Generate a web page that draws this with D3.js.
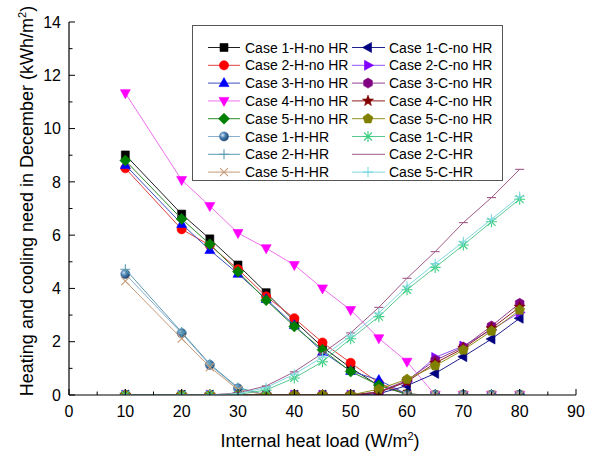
<!DOCTYPE html>
<html><head><meta charset="utf-8">
<script src="https://cdn.jsdelivr.net/npm/d3@7"></script>
<style>body{margin:0;background:#fff}svg{display:block}</style>
</head><body><svg id="c" width="593" height="454"></svg>
<script>
// ---- data ----
const xLoad = [10,20,25,30,35,40,45,50,55,60,65,70,75,80];
const seriesNames = ["Case 1-H-no HR","Case 2-H-no HR","Case 3-H-no HR","Case 4-H-no HR","Case 5-H-no HR",
  "Case 1-H-HR","Case 2-H-HR","Case 5-H-HR",
  "Case 1-C-no HR","Case 2-C-no HR","Case 3-C-no HR","Case 4-C-no HR","Case 5-C-no HR",
  "Case 1-C-HR","Case 2-C-HR","Case 5-C-HR"];
const case1HnoHR = [9.01,6.79,5.86,4.88,3.84,2.78,1.80,1.02,0.35,0.03,0,0,0,0];
const case2HnoHR = [8.51,6.22,5.62,4.72,3.70,2.88,1.97,1.21,0.45,0.03,0,0,0,0];
const case3HnoHR = [8.63,6.42,5.44,4.55,3.60,2.62,1.62,0.90,0.56,0.03,0,0,0,0];
const case4HnoHR = [11.33,8.07,7.09,6.08,5.51,4.88,4.00,3.19,2.13,1.25,0,0,0,0];
const case5HnoHR = [8.80,6.61,5.66,4.63,3.56,2.57,1.70,0.88,0.37,0.03,0,0,0,0];
const case1HHR = [4.54,2.32,1.13,0.25,0,0,0,0,0,0,0,0,0,0];
const case2HHR = [4.72,2.36,1.16,0.28,0,0,0,0,0,0,0,0,0,0];
const case5HHR = [4.27,2.12,1.05,0.20,0,0,0,0,0,0,0,0,0,0];
const case1CnoHR = [0,0,0,0,0,0,0,0,0.05,0.35,0.81,1.44,2.10,2.88];
const case2CnoHR = [0,0,0,0,0,0,0,0,0.10,0.50,1.41,1.84,2.45,3.10];
const case3CnoHR = [0,0,0,0,0,0,0,0,0.12,0.55,1.30,1.80,2.59,3.44];
const case4CnoHR = [0,0,0,0,0,0,0,0,0.10,0.50,1.20,1.75,2.50,3.30];
const case5CnoHR = [0,0,0,0,0,0,0,0,0.22,0.59,1.10,1.69,2.40,3.19];
const case1CHR = [0,0,0,0.02,0.19,0.64,1.25,2.11,2.94,3.95,4.79,5.63,6.50,7.35];
const case2CHR = [0,0,0,0.08,0.34,0.87,1.57,2.33,3.29,4.38,5.38,6.47,7.41,8.47];
const case5CHR = [0,0,0,0.05,0.28,0.78,1.42,2.22,3.08,4.08,4.93,5.75,6.60,7.45];
const xTicks = [0,10,20,30,40,50,60,70,80,90];
const yTicks = [0,2,4,6,8,10,12,14];
const xTitle = "Internal heat load (W/m";
const yTitle = "Heating and cooling need in December (kWh/m";

// ---- styles ----
const seriesValues = [case1HnoHR,case2HnoHR,case3HnoHR,case4HnoHR,case5HnoHR,case1HHR,case2HHR,case5HHR,
  case1CnoHR,case2CnoHR,case3CnoHR,case4CnoHR,case5CnoHR,case1CHR,case2CHR,case5CHR];
const seriesShapes = ["square","circle","triUp","triDown","diamond","sphere","plus","cross",
  "triLeft","triRight","hexagon","star","pentagon","asterisk","dash","plus"];
const markerColors = ["#000000","#ff0000","#0000ff","#ff00ff","#008000","#3d6f9e","#5c9bb0","#c49a78",
  "#000080","#8000ff","#800080","#800000","#808000","#3ccf7f","#a05a88","#7fd8e0"];
const lineColors = ["#202020","#e04040","#4050c0","#ee70ee","#2a8a2a","#8aaed0","#5c9bb0","#c49a78",
  "#202090","#9050f0","#904090","#902020","#909020","#58c890","#a05a88","#7fd8e0"];

const svg = d3.select("#c");
const x = d3.scaleLinear().domain([0,90]).range([69,576]);
const y = d3.scaleLinear().domain([0,14]).range([395,22]);
const font = "'Liberation Sans', Arial, sans-serif";

const defs = svg.append("defs");
const g = defs.append("radialGradient").attr("id","sph").attr("cx","35%").attr("cy","35%").attr("r","65%");
g.append("stop").attr("offset","0%").attr("stop-color","#d8e8f8");
g.append("stop").attr("offset","45%").attr("stop-color","#4f86b8");
g.append("stop").attr("offset","100%").attr("stop-color","#1d446c");
defs.append("clipPath").attr("id","clip").append("rect")
  .attr("x",x(0)).attr("y",0).attr("width",x(90)-x(0)+6).attr("height",y(0));

function poly(pts){return "M"+pts.map(p=>p[0].toFixed(2)+","+p[1].toFixed(2)).join("L")+"Z";}
function regular(n,r,rot){const p=[];for(let i=0;i<n;i++){const a=rot+i*2*Math.PI/n;p.push([r*Math.cos(a),r*Math.sin(a)]);}return poly(p);}
function shapePath(s){
  switch(s){
    case "square": return poly([[-4,-4],[4,-4],[4,4],[-4,4]]);
    case "circle": case "sphere": return "M-4.6,0A4.6,4.6 0 1,0 4.6,0A4.6,4.6 0 1,0 -4.6,0Z";
    case "triUp": return poly([[0,-5.5],[5,3.5],[-5,3.5]]);
    case "triDown": return poly([[0,5.5],[5,-3.5],[-5,-3.5]]);
    case "triLeft": return poly([[-5.5,0],[3.5,-5],[3.5,5]]);
    case "triRight": return poly([[5.5,0],[-3.5,-5],[-3.5,5]]);
    case "diamond": return poly([[0,-5.5],[5.5,0],[0,5.5],[-5.5,0]]);
    case "hexagon": return regular(6,5,Math.PI/6);
    case "pentagon": return regular(5,5.2,-Math.PI/2);
    case "star": {const p=[];for(let i=0;i<10;i++){const r=i%2?2.4:5.8;const a=-Math.PI/2+i*Math.PI/5;p.push([r*Math.cos(a),r*Math.sin(a)]);}return poly(p);}
    case "plus": return "M-5,0H5M0,-5V5";
    case "cross": return "M-4,-4L4,4M-4,4L4,-4";
    case "asterisk": return "M-5.5,0H5.5M0,-5.5V5.5M-4,-4L4,4M-4,4L4,-4";
    case "dash": return "M-4.5,0H4.5";
  }
}
const openShapes = new Set(["plus","cross","asterisk","dash"]);
function drawMarker(sel, s, col){
  const p = sel.append("path").attr("d",shapePath(s));
  if(openShapes.has(s)) p.attr("fill","none").attr("stroke",col).attr("stroke-width",1.1);
  else if(s==="sphere") p.attr("fill","url(#sph)").attr("stroke","#3d6f9e").attr("stroke-width",0.5);
  else p.attr("fill",col).attr("stroke",col).attr("stroke-width",0.6);
  return p;
}

// ---- plot ----
const plot = svg.append("g").attr("clip-path","url(#clip)");
const line = d3.line().x(d=>x(d[0])).y(d=>y(d[1]));
seriesValues.forEach((vals,i)=>{
  const pts = xLoad.map((xv,j)=>[xv,vals[j]]);
  plot.append("path").attr("d",line(pts)).attr("fill","none").attr("stroke",lineColors[i]).attr("stroke-width",1);
  pts.forEach(p=>{
    const m = plot.append("g").attr("transform",`translate(${x(p[0])},${y(p[1])})`);
    drawMarker(m, seriesShapes[i], markerColors[i]);
  });
});

// ---- axes ----
const ax = svg.append("g").attr("font-family",font).attr("font-size",16).attr("fill","#000");
ax.append("line").attr("x1",x(0)).attr("x2",x(90)).attr("y1",y(0)).attr("y2",y(0)).attr("stroke","#000").attr("stroke-width",1.2);
ax.append("line").attr("x1",x(0)).attr("x2",x(0)).attr("y1",y(0)).attr("y2",y(14)).attr("stroke","#000").attr("stroke-width",1.2);
d3.range(0,91,5).forEach(v=>{
  const major = v%10===0;
  ax.append("line").attr("x1",x(v)).attr("x2",x(v)).attr("y1",y(0)).attr("y2",y(0)-(major?6:3.5)).attr("stroke","#000");
});
d3.range(0,15,1).forEach(v=>{
  const major = v%2===0;
  ax.append("line").attr("y1",y(v)).attr("y2",y(v)).attr("x1",x(0)).attr("x2",x(0)+(major?6:3.5)).attr("stroke","#000");
});
xTicks.forEach(v=>ax.append("text").attr("x",x(v)).attr("y",417).attr("text-anchor","middle").text(v));
yTicks.forEach(v=>ax.append("text").attr("x",61).attr("y",y(v)).attr("dy","0.36em").attr("text-anchor","end").text(v));
const xt = ax.append("text").attr("x",320).attr("y",447).attr("text-anchor","middle").attr("font-size",18).text(xTitle);
xt.append("tspan").attr("font-size",11).attr("dy",-7).text("2");
xt.append("tspan").attr("dy",7).text(")");
const yt = ax.append("text").attr("transform",`translate(33,201) rotate(-90)`).attr("text-anchor","middle").attr("font-size",18).text(yTitle);
yt.append("tspan").attr("font-size",11).attr("dy",-7).text("2");
yt.append("tspan").attr("dy",7).text(")");

// ---- legend ----
const lg = svg.append("g").attr("font-family",font).attr("font-size",14);
lg.append("rect").attr("x",192.5).attr("y",25.5).attr("width",310).attr("height",155).attr("fill","#fff").attr("stroke","#555").attr("stroke-width",1);
seriesNames.forEach((name,i)=>{
  const col = i<8?0:1, row = i%8;
  const cy = 47.5 + row*17.8;
  const lx0 = col? 352:208, lx1 = col? 385:240, mx = col? 368:224, tx = col? 389:245;
  lg.append("line").attr("x1",lx0).attr("x2",lx1).attr("y1",cy).attr("y2",cy).attr("stroke",lineColors[i]).attr("stroke-width",1);
  if(seriesShapes[i]!=="dash"){
    const m = lg.append("g").attr("transform",`translate(${mx},${cy})`);
    drawMarker(m, seriesShapes[i], markerColors[i]);
  }
  lg.append("text").attr("x",tx).attr("y",cy).attr("dy","0.36em").text(name);
});
</script></body></html>
